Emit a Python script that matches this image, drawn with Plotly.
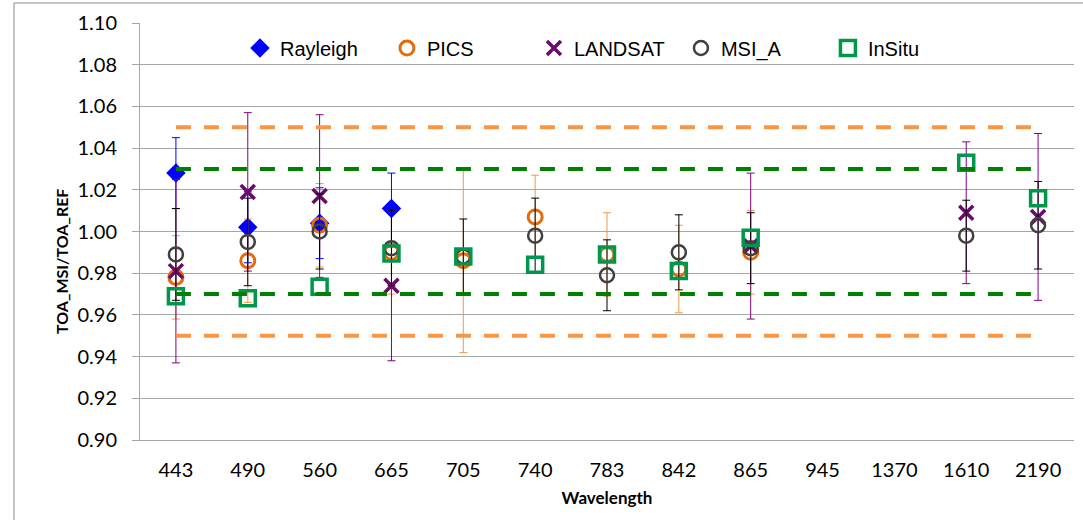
import plotly.graph_objects as go

# ---------------- data ----------------
wavelengths = ["443", "490", "560", "665", "705", "740", "783", "842", "865", "945", "1370", "1610", "2190"]

rayleigh = [1.028, 1.002, 1.004, 1.011, None, None, None, None, None, None, None, None, None]
rayleigh_err = [0.017, 0.017, 0.017, 0.017, 0, 0, 0, 0, 0, 0, 0, 0, 0]

pics = [0.978, 0.986, 1.003, 0.990, 0.986, 1.007, 0.989, 0.982, 0.990, None, None, None, None]
pics_err = [0.020, 0.020, 0.020, 0.020, 0.044, 0.020, 0.020, 0.021, 0.020, 0, 0, 0, 0]

landsat = [0.981, 1.019, 1.017, 0.974, None, None, None, None, 0.993, None, None, 1.009, 1.007]
landsat_err = [0.044, 0.038, 0.039, 0.036, 0, 0, 0, 0, 0.035, 0, 0, 0.034, 0.040]

msi_a = [0.989, 0.995, 1.000, 0.992, 0.988, 0.998, 0.979, 0.990, 0.992, None, None, 0.998, 1.003]
msi_a_err = [0.022, 0.021, 0.018, 0.018, 0.018, 0.018, 0.017, 0.018, 0.017, 0, 0, 0.017, 0.021]

insitu = [0.969, 0.968, 0.9735, 0.9895, 0.988, 0.984, 0.989, 0.981, 0.997, None, None, 1.033, 1.016]

limit_outer = [0.95, 1.05]
limit_inner = [0.97, 1.03]

y_ticks = [0.90, 0.92, 0.94, 0.96, 0.98, 1.00, 1.02, 1.04, 1.06, 1.08, 1.10]

# ---------------- figure ----------------
fig = go.Figure()

GRID = "#A6A6A6"
TICKFONT = "Lato, Carlito, Calibri, sans-serif"

fig.add_trace(go.Scatter(
    x=wavelengths, y=rayleigh, name="Rayleigh", mode="markers",
    marker=dict(symbol="diamond", size=15, color="#0000FF"),
    error_y=dict(type="data", array=rayleigh_err, color="#0000FF", thickness=1, width=4),
))
fig.add_trace(go.Scatter(
    x=wavelengths, y=pics, name="PICS", mode="markers",
    marker=dict(symbol="circle-open", size=14, color="#E46C0A", line=dict(width=3, color="#E46C0A")),
    error_y=dict(type="data", array=pics_err, color="#F79646", thickness=1, width=4),
))
fig.add_trace(go.Scatter(
    x=wavelengths, y=landsat, name="LANDSAT", mode="markers",
    marker=dict(symbol="x-thin", size=14, color="#6A0A6A", line=dict(width=3.5, color="#6A0A6A")),
    error_y=dict(type="data", array=landsat_err, color="#800080", thickness=1, width=4),
))
fig.add_trace(go.Scatter(
    x=wavelengths, y=msi_a, name="MSI_A", mode="markers",
    marker=dict(symbol="circle-open", size=14, color="#404040", line=dict(width=2.5, color="#404040")),
    error_y=dict(type="data", array=msi_a_err, color="#000000", thickness=1, width=4),
))
fig.add_trace(go.Scatter(
    x=wavelengths, y=insitu, name="InSitu", mode="markers",
    marker=dict(symbol="square-open", size=15, color="#00964B", line=dict(width=3.5, color="#00964B")),
))

line_x = [wavelengths[0], wavelengths[-1]]
for val in limit_outer:
    fig.add_trace(go.Scatter(
        x=line_x, y=[val, val], mode="lines", showlegend=False, hoverinfo="skip",
        line=dict(color="#F79646", width=4, dash="15px,13px"),
    ))
for val in limit_inner:
    fig.add_trace(go.Scatter(
        x=line_x, y=[val, val], mode="lines", showlegend=False, hoverinfo="skip",
        line=dict(color="#008000", width=4, dash="15px,13px"),
    ))

fig.update_layout(
    width=1083, height=520,
    margin=dict(l=140, r=9, t=23, b=80),
    paper_bgcolor="white", plot_bgcolor="white",
    font=dict(family=TICKFONT, color="#000000"),
    showlegend=True,
    legend=dict(
        orientation="h", x=0.107, xanchor="left", y=0.94, yanchor="middle",
        font=dict(family="Liberation Sans, Arial, sans-serif", size=20, color="#000000"),
        bgcolor="rgba(255,255,255,0)", itemwidth=30, entrywidth=102,
    ),
    xaxis=dict(
        type="category", categoryorder="array", categoryarray=wavelengths,
        range=[-0.5, len(wavelengths) - 0.5],
        showgrid=False, showline=True, linecolor=GRID, linewidth=1,
        ticks="", ticklabelstandoff=12,
        tickfont=dict(size=20, family=TICKFONT),
        title=dict(text="<b>Wavelength</b>", font=dict(size=17), standoff=12),
        zeroline=False,
    ),
    yaxis=dict(
        range=[0.90, 1.10], tickvals=y_ticks, tickformat=".2f",
        showgrid=True, gridcolor=GRID, gridwidth=1,
        showline=True, linecolor=GRID, linewidth=1,
        ticks="outside", ticklen=7, tickcolor=GRID, ticklabelstandoff=11,
        tickfont=dict(size=20, family=TICKFONT),
        zeroline=False,
    ),
    annotations=[dict(
        text="<b>TOA_MSI/TOA_REF</b>", textangle=-90, showarrow=False,
        xref="paper", yref="paper", x=-0.0835, y=0.427, xanchor="center", yanchor="middle",
        font=dict(size=16, family=TICKFONT),
    )],
    shapes=[dict(
        type="path", xref="paper", yref="paper",
        path="M -0.1349,-0.2 L -0.1349,1.048 L 1.02,1.048",
        line=dict(color="#8C8C8C", width=1),
    )],
)

fig.write_html("out.html")
